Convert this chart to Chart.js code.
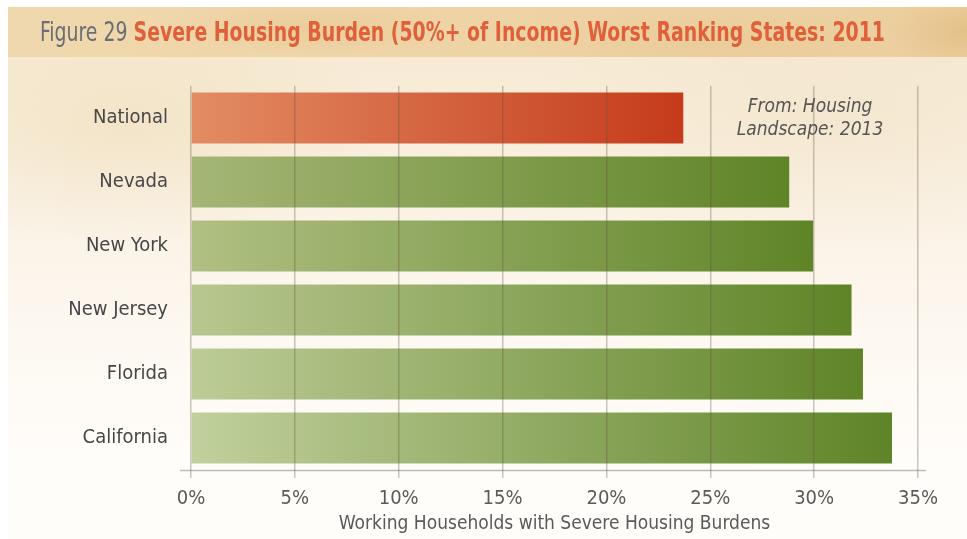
<!DOCTYPE html>
<html>
<head>
<meta charset="utf-8">
<script src="https://cdn.jsdelivr.net/npm/chart.js@4.4.1/dist/chart.umd.min.js"></script>
<style>
  html, body { margin: 0; padding: 0; background: #fff; }
  body { width: 967px; height: 539px; position: relative; overflow: hidden; }
  #panel {
    position: absolute; left: 8px; top: 7px; right: 0; bottom: 0;
    background:
      radial-gradient(ellipse 260px 120px at 120px 120px, rgba(236,214,170,0.4), rgba(236,214,170,0) 100%),
      radial-gradient(ellipse 300px 140px at 820px 110px, rgba(238,220,185,0.35), rgba(238,220,185,0) 100%),
      linear-gradient(to bottom, #f5e7cd 0px, #f7ebd6 60px, #faf2e5 200px, #fdf8f1 330px, #fffdfa 460px);
  }
  #band {
    position: absolute; left: 8px; top: 7px; right: 0; height: 50px;
    background:
      radial-gradient(ellipse 140px 30px at 300px 20px, rgba(226,190,130,0.35), rgba(226,190,130,0) 100%),
      radial-gradient(ellipse 180px 35px at 700px 35px, rgba(230,196,140,0.35), rgba(230,196,140,0) 100%),
      radial-gradient(ellipse 80px 40px at 960px 25px, rgba(220,180,115,0.5), rgba(220,180,115,0) 100%),
      linear-gradient(to right, #f0d8ae, #eed3a5 50%, #ecce9e);
  }
  #title {
    position: absolute; left: 40px; top: 14px; white-space: nowrap;
    transform-origin: 0 50%;
    font-family: "DejaVu Sans Condensed", "Liberation Sans Narrow", sans-serif;
    font-size: 27px; line-height: 36px; color: #686e74;
  }
  #title b { color: #e0603a; font-weight: bold; }
  #note {
    position: absolute; left: 730px; top: 94px; width: 160px; text-align: center;
    font-family: "DejaVu Sans Condensed", "Liberation Sans Narrow", sans-serif;
    font-style: italic; font-size: 19px; line-height: 23px; color: #555;
  }
  #wrap { position: absolute; left: 0; top: 0; width: 967px; height: 539px; }
</style>
</head>
<body>
<div id="panel"></div>
<div id="band"></div>
<div id="wrap"><canvas id="chart"></canvas></div>
<div id="title">Figure 29 <b>Severe Housing Burden (50%+ of Income) Worst Ranking States: 2011</b></div>
<div id="note">From: Housing<br>Landscape: 2013</div>
<script>
const categories = ["National", "Nevada", "New York", "New Jersey", "Florida", "California"];
const burdenShare = [23.7, 28.8, 29.95, 31.8, 32.35, 33.75];
const tickValues = [0, 5, 10, 15, 20, 25, 30, 35];
const axisTitle = "Working Households with Severe Housing Burdens";

const FONT = '"DejaVu Sans Condensed", "Liberation Sans Narrow", sans-serif';

// squeeze the title to the width it has in the figure
const titleEl = document.getElementById("title");
const titleW = titleEl.getBoundingClientRect().width;
titleEl.style.transform = "scaleX(" + (845 / titleW) + ")";

// bar start colours, top to bottom (the top rows look a bit darker)
const startColors = ["#e38c64", "#a5b676", "#b0c083", "#b8c790", "#bdcc97", "#c1d09d"];

function barFill(ctx) {
  const chart = ctx.chart;
  if (!chart.chartArea) return "#7a9a40";
  const x = chart.scales.x;
  const i = ctx.dataIndex;
  const v = ctx.parsed ? ctx.parsed.x : burdenShare[i];
  const x0 = x.getPixelForValue(0);
  const x1 = x.getPixelForValue(v);
  const g = chart.ctx.createLinearGradient(x0, 0, x1, 0);
  g.addColorStop(0, startColors[i]);
  g.addColorStop(1, i === 0 ? "#c53b1b" : "#5f8427");
  return g;
}

// horizontal axis line, a little longer than the plot area
const axisLine = {
  id: "axisLine",
  afterDatasetsDraw(chart) {
    const { ctx, chartArea } = chart;
    ctx.save();
    ctx.strokeStyle = "#bcbcbc";
    ctx.lineWidth = 1.5;
    ctx.beginPath();
    ctx.moveTo(chartArea.left - 11, chartArea.bottom + 0.5);
    ctx.lineTo(chartArea.right + 8, chartArea.bottom + 0.5);
    ctx.stroke();
    ctx.restore();
  }
};

new Chart(document.getElementById("chart"), {
  type: "bar",
  data: {
    labels: categories,
    datasets: [{
      data: burdenShare,
      backgroundColor: barFill,
      borderWidth: 0,
      categoryPercentage: 1,
      barPercentage: 0.8
    }]
  },
  options: {
    indexAxis: "y",
    responsive: true,
    maintainAspectRatio: false,
    animation: false,
    layout: { padding: { top: 86, right: 49, bottom: 0, left: 0 } },
    plugins: { legend: { display: false }, tooltip: { enabled: false } },
    scales: {
      x: {
        min: 0,
        max: 35,
        afterBuildTicks(scale) { scale.ticks = tickValues.map(v => ({ value: v })); },
        afterFit(scale) { scale.height = 69; },
        grid: {
          z: 1,
          color: "rgba(95,80,55,0.32)",
          lineWidth: 1.5,
          tickLength: 8,
          tickColor: "rgba(95,80,55,0.32)",
          drawTicks: true
        },
        border: { display: false },
        ticks: {
          padding: 9,
          color: "#5a5a5a",
          font: { family: FONT, size: 20 },
          callback: v => v + "%"
        },
        title: {
          display: true,
          text: axisTitle,
          color: "#5a5a5a",
          font: { family: FONT, size: 19 },
          padding: { top: 2, bottom: 4 }
        }
      },
      y: {
        afterFit(scale) { scale.width = 191; },
        grid: { display: false, drawTicks: false },
        border: { display: false },
        ticks: {
          padding: 23,
          color: "#474747",
          font: { family: FONT, size: 20 }
        }
      }
    }
  },
  plugins: [axisLine]
});
</script>
</body>
</html>
